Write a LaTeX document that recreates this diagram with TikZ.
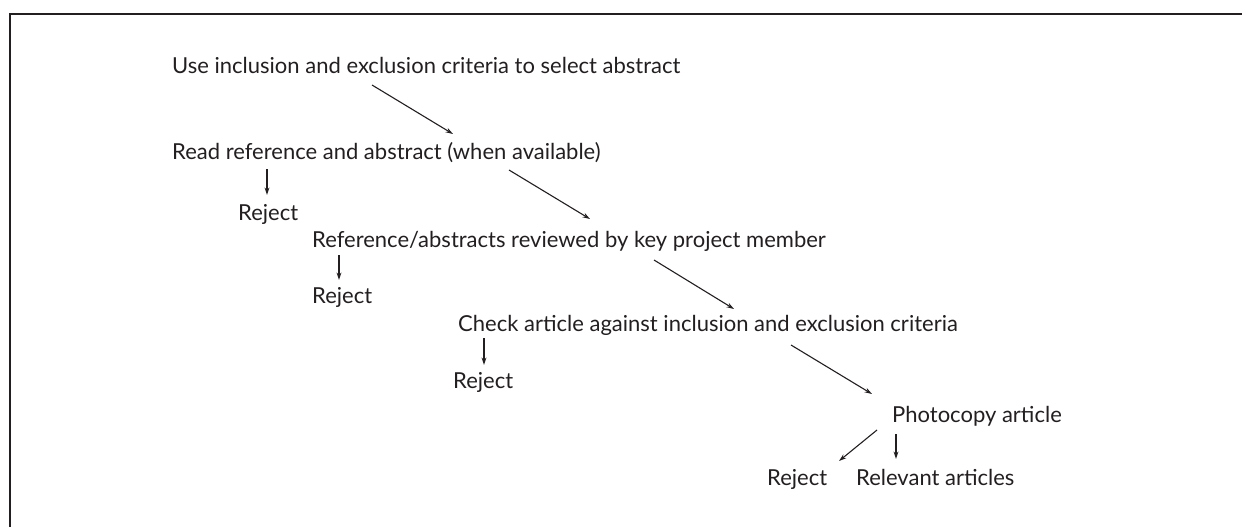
\documentclass[tikz,border=0pt]{standalone}
\usepackage{fontspec}
\setmainfont{Lato}
\usetikzlibrary{arrows.meta}
\definecolor{ink}{HTML}{231F20}
\begin{document}
\begin{tikzpicture}[x=1pt,y=-1pt,
  lbl/.style={anchor=base west,inner sep=0pt,text=ink,font=\fontsize{22}{26}\selectfont},
  conn/.style={draw=ink,line width=1.1pt,-{Stealth[length=7.5pt,width=4.8pt]}}]
\useasboundingbox (0,0) rectangle (1242,527);
\draw[line width=1.6pt,ink] (10,527) -- (10,14) -- (1242,14);
% labels
\node[lbl] (l1) at (172,74) {Use inclusion and exclusion criteria to select abstract};
\node[lbl] (l2) at (172,159) {Read reference and abstract (when available)};
\node[lbl] (r1) at (238,220) {Reject};
\node[lbl] (l3) at (312,247) {Reference/abstracts reviewed by key project member};
\node[lbl] (r2) at (312,303) {Reject};
\node[lbl] (l4) at (458,331) {Check article against inclusion and exclusion criteria};
\node[lbl] (r3) at (453,388) {Reject};
\node[lbl] (l5) at (892,422) {Photocopy article};
\node[lbl] (r4) at (767,485) {Reject};
\node[lbl] (l6) at (856,485) {Relevant articles};
% arrow ends
\coordinate (a1s) at (372,85);  \coordinate (a1e) at (453,134);
\coordinate (a2s) at (509,170); \coordinate (a2e) at (590,219);
\coordinate (a3s) at (654,260); \coordinate (a3e) at (734,309);
\coordinate (a4s) at (791,345); \coordinate (a4e) at (872,394);
\coordinate (a5s) at (877,430); \coordinate (a5e) at (839,461);
\coordinate (a6s) at (896,434); \coordinate (a6e) at (896,459);
\coordinate (d1s) at (267,169); \coordinate (d1e) at (267,195);
\coordinate (d2s) at (339,255); \coordinate (d2e) at (339,280);
\coordinate (d3s) at (484,338); \coordinate (d3e) at (484,365);
\draw[conn] (a1s) -- (a1e);
\draw[conn] (a2s) -- (a2e);
\draw[conn] (a3s) -- (a3e);
\draw[conn] (a4s) -- (a4e);
\draw[conn] (a5s) -- (a5e);
\draw[conn] (a6s) -- (a6e);
\draw[conn] (d1s) -- (d1e);
\draw[conn] (d2s) -- (d2e);
\draw[conn] (d3s) -- (d3e);
\end{tikzpicture}
\end{document}
